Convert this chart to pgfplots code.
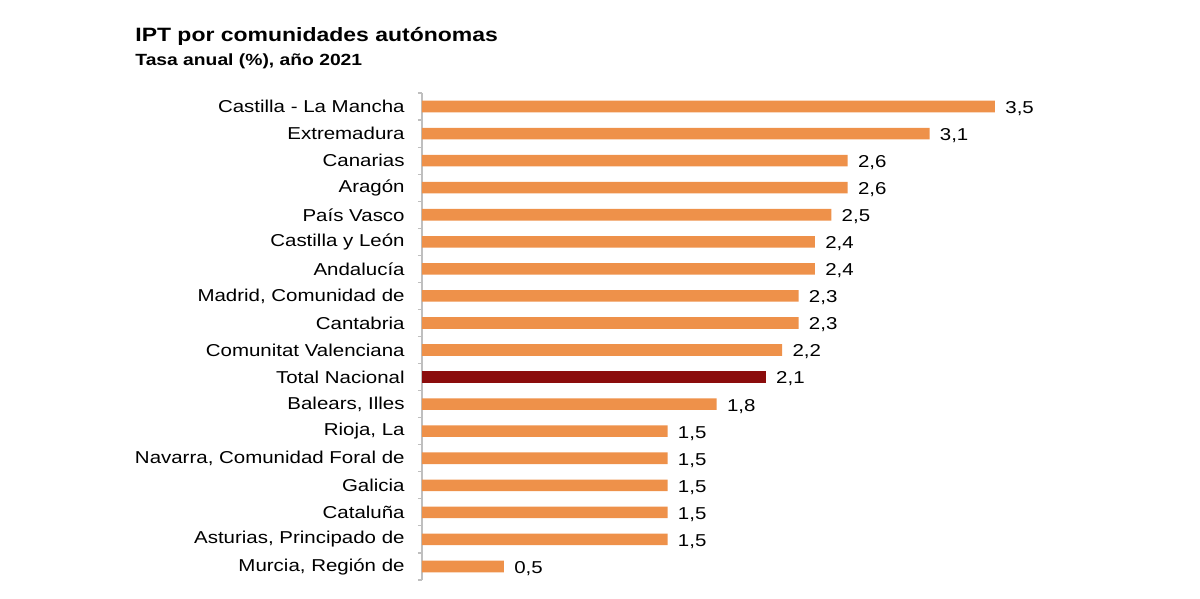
\documentclass[border=0pt]{standalone}
\usepackage{pgfplots}
\pgfplotsset{compat=1.18}
\usepackage{graphicx}
\usepackage{fontspec}
\setmainfont{Liberation Sans}
\definecolor{barorange}{HTML}{EE914A}
\definecolor{bardark}{HTML}{8B0C0C}
\definecolor{axgray}{HTML}{BFBFBF}
\newcommand{\sx}[1]{\scalebox{1.19}[1]{#1}}
\begin{document}
\begin{tikzpicture}[x=1pt,y=1pt]
\path[use as bounding box] (0,0) rectangle (600,299.5);
\node[anchor=base west,inner sep=0pt,font=\bfseries\fontsize{9.65}{11}\selectfont] at (67.5,278.5) {\sx{IPT por comunidades autónomas}};
\node[anchor=base west,inner sep=0pt,font=\bfseries\fontsize{8.1}{9}\selectfont] at (67.5,266.5) {\sx{Tasa anual (\%), año 2021}};
\begin{axis}[
  at={(211pt,9.5pt)}, anchor=south west,
  scale only axis, width=286.5pt, height=243.5pt,
  xmin=0, xmax=3.5, ymin=-0.5, ymax=17.5, y dir=reverse,
  xbar, bar width=5.8pt, bar shift=0pt,
  clip=false,
  axis x line=none,
  axis y line=left,
  y axis line style={-, draw=axgray, line width=0.6pt},
  ytick={0,...,17},
  major tick length=0pt,
  minor ytick={-0.5,0.5,...,17.5},
  minor tick length=2pt,
  tick align=outside,
  minor tick style={draw=axgray, line width=0.6pt},
  yticklabel style={font=\fontsize{8.6}{10}\selectfont, inner sep=0pt, anchor=east, xshift=-8.5pt},
  yticklabels={
    {\sx{Castilla - La Mancha}},
    {\sx{Extremadura}},
    {\sx{Canarias}},
    {\sx{Aragón}},
    {\sx{País Vasco}},
    {\sx{Castilla y León}},
    {\sx{Andalucía}},
    {\sx{Madrid, Comunidad de}},
    {\sx{Cantabria}},
    {\sx{Comunitat Valenciana}},
    {\sx{Total Nacional}},
    {\sx{Balears, Illes}},
    {\sx{Rioja, La}},
    {\sx{Navarra, Comunidad Foral de}},
    {\sx{Galicia}},
    {\sx{Cataluña}},
    {\sx{Asturias, Principado de}},
    {\sx{Murcia, Región de}}
  },
  /pgf/number format/assume math mode=true,
  nodes near coords={\sx{\pgfmathprintnumber[fixed,precision=1,fixed zerofill,use comma,assume math mode=true]{\pgfplotspointmeta}}},
  nodes near coords style={font=\fontsize{8.6}{10}\selectfont, anchor=west, inner sep=0pt, xshift=5pt, yshift=-1pt, text=black},
]
\addplot[fill=barorange, draw=none] coordinates {
  (3.5,0) (3.1,1) (2.6,2) (2.6,3) (2.5,4) (2.4,5) (2.4,6) (2.3,7) (2.3,8) (2.2,9)
  (1.8,11) (1.5,12) (1.5,13) (1.5,14) (1.5,15) (1.5,16) (0.5,17)
};
\addplot[fill=bardark, draw=none] coordinates {(2.1,10)};
\end{axis}
\end{tikzpicture}
\end{document}
